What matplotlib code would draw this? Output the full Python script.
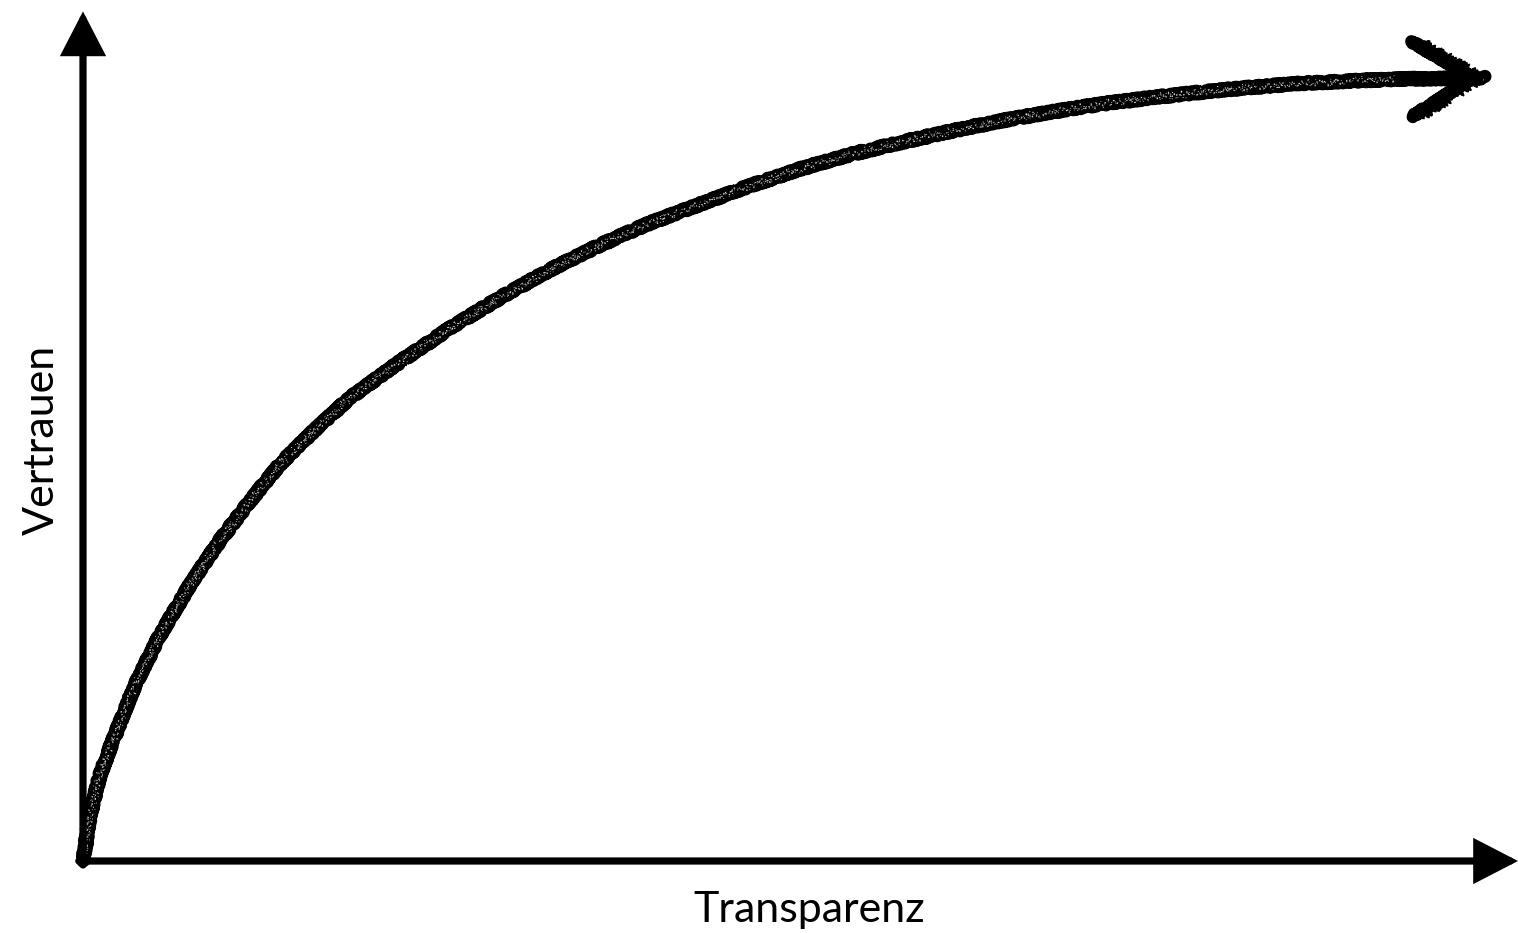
import matplotlib
matplotlib.use("Agg")
import matplotlib.pyplot as plt
import numpy as np

# ---- data ----
transparenz = [0.0, 0.5, 1.21, 2.29, 3.71, 5.5, 7.64, 9.79, 11.93, 14.07,
               16.57, 19.07, 22.64, 26.21, 29.79, 33.36, 36.93, 40.5, 44.07,
               47.64, 51.21, 54.79, 58.36, 61.93, 65.5, 69.07, 72.64, 76.21,
               79.79, 83.36, 86.93, 90.5, 94.07, 100.14]
vertrauen = [0.0, 5.75, 10.75, 15.75, 22.0, 28.25, 34.5, 40.1, 45.0, 49.6,
             53.9, 57.9, 62.4, 66.6, 70.4, 73.9, 77.0, 79.75, 82.1,
             84.4, 86.5, 88.3, 89.8, 91.2, 92.5, 93.6, 94.6, 95.4,
             96.1, 96.7, 97.2, 97.5, 97.75, 97.9]
x_label = "Transparenz"
y_label = "Vertrauen"

W, H = 1518, 933
fig = plt.figure(figsize=(W / 100, H / 100), dpi=100)
# axes origin at pixel (83, 861); 100 units -> 1400 px in x, 800 px in y
ax = fig.add_axes([83 / W, (H - 861) / H, 1400 / W, 800 / H])
ax.set_xlim(0, 100)
ax.set_ylim(0, 100)
ax.axis("off")

# ---- axes with arrows ----
axis_lw = 5.2
arrow_style = "-|>,head_length=1.2,head_width=0.62"
ax.annotate("", xy=(0, 106.2), xytext=(0, -0.5),
            arrowprops=dict(arrowstyle=arrow_style, mutation_scale=20,
                            lw=axis_lw, color="black", shrinkA=0, shrinkB=0,
                            joinstyle="miter"),
            annotation_clip=False)
ax.annotate("", xy=(102.5, 0), xytext=(-0.3, 0),
            arrowprops=dict(arrowstyle=arrow_style, mutation_scale=20,
                            lw=axis_lw, color="black", shrinkA=0, shrinkB=0,
                            joinstyle="miter"),
            annotation_clip=False)

# ---- chalky curve ----
x = np.array(transparenz)
y = np.array(vertrauen)
main, = ax.plot(x, y, color="black", lw=9.5, solid_capstyle="round",
                solid_joinstyle="round", clip_on=False)
main.set_sketch_params(scale=1.5, length=3, randomness=3)
for lw, sc in [(2.0, 5.0), (1.5, 6.0), (1.0, 6.5), (1.8, 4.0)]:
    ln, = ax.plot(x, y, color="black", lw=lw, clip_on=False)
    ln.set_sketch_params(scale=sc, length=2, randomness=4)
# chalk speckles (white flecks inside the stroke)
for lw, sc in [(1.0, 3.0), (0.8, 4.0), (0.7, 2.0)]:
    sp, = ax.plot(x, y, color="white", lw=lw, clip_on=False, alpha=0.85,
                  dashes=(0.6, 5))
    sp.set_sketch_params(scale=sc, length=2, randomness=4)

# open chevron head at the curve end
for lw, sc in [(9.0, 1.2), (2.0, 3.5), (1.4, 4.5)]:
    ann = ax.annotate("", xy=(x[-1], y[-1]), xytext=(x[-2], y[-2]),
                      arrowprops=dict(arrowstyle="->,head_length=2.2,head_width=1.35",
                                      mutation_scale=20, lw=lw,
                                      color="black", shrinkA=0, shrinkB=0,
                                      capstyle="round", joinstyle="round"),
                      annotation_clip=False)
    ann.arrow_patch.set_sketch_params(scale=sc, length=3, randomness=3)

# ---- labels ----
font = ["Lato", "DejaVu Sans"]
fig.text(809 / W, 1 - 922 / H, x_label, ha="center", va="baseline",
         fontsize=31, family=font, color="black")
fig.text(54 / W, 1 - 440 / H, y_label, ha="center", va="baseline",
         rotation=90, rotation_mode="anchor", fontsize=31, family=font,
         color="black")

fig.savefig("out.png", dpi=100, facecolor="white")
